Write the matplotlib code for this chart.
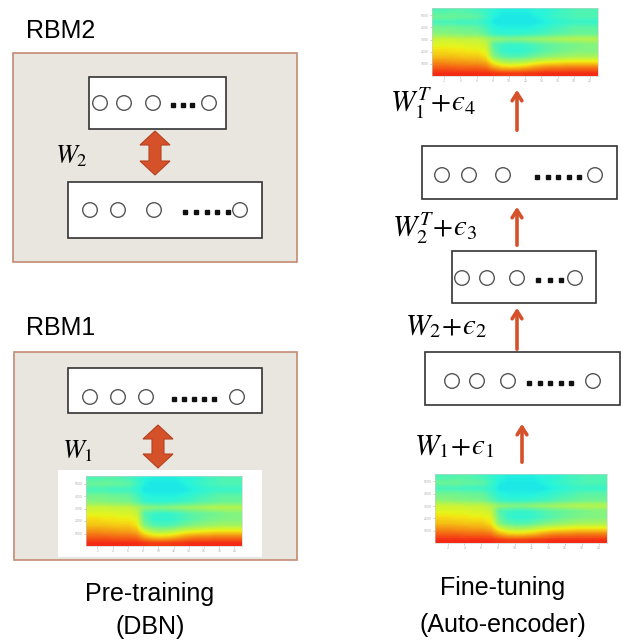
import numpy as np
import matplotlib
matplotlib.use("Agg")
import matplotlib.pyplot as plt
import matplotlib.patches as mpatches
from matplotlib.colors import ListedColormap

W, H = 621, 642

# spectrogram intensities (x100, jet scale), rows top (high freq) -> bottom
SPEC = np.array([
    [43, 43, 44, 44, 43, 42, 40, 38, 37, 37, 37, 37, 38, 38, 39, 41, 42, 43, 43, 43],
    [47, 47, 47, 46, 46, 45, 41, 37, 36, 36, 36, 36, 37, 38, 40, 41, 42, 43, 43, 43],
    [42, 42, 42, 41, 41, 41, 39, 36, 36, 36, 36, 36, 36, 37, 38, 39, 40, 40, 40, 40],
    [48, 48, 48, 47, 47, 46, 42, 38, 37, 37, 37, 37, 38, 39, 41, 42, 44, 45, 45, 45],
    [51, 51, 50, 50, 49, 49, 45, 40, 39, 39, 39, 40, 41, 42, 44, 45, 46, 47, 47, 47],
    [60, 60, 60, 59, 59, 59, 56, 52, 51, 50, 51, 52, 53, 54, 55, 56, 57, 57, 57, 57],
    [63, 63, 63, 63, 62, 62, 60, 44, 41, 40, 40, 41, 43, 45, 46, 47, 48, 49, 50, 50],
    [67, 67, 66, 66, 65, 65, 63, 46, 40, 39, 39, 40, 42, 44, 46, 48, 49, 50, 50, 50],
    [70, 70, 70, 69, 69, 69, 66, 50, 45, 43, 43, 45, 48, 50, 52, 53, 54, 55, 55, 55],
    [76, 76, 75, 75, 74, 74, 72, 62, 57, 55, 56, 58, 61, 63, 64, 65, 66, 66, 66, 66],
    [82, 82, 82, 81, 81, 81, 80, 74, 70, 69, 70, 72, 75, 77, 78, 78, 79, 79, 79, 79],
    [88, 88, 88, 88, 88, 88, 88, 87, 86, 86, 86, 87, 87, 88, 88, 88, 88, 88, 88, 88],
]) / 100.0
SPEC_XTICKS = [2, 4, 6, 8, 10, 12, 14, 16, 18, 20]
SPEC_YTICKS = [1000, 2000, 3000, 4000, 5000]

RED = "#d5512a"
RED_DARK = "#b5411f"
PANEL_FACE = "#e9e5df"
PANEL_EDGE = "#c48a74"

# slightly washed-out jet, like the scanned figure
_jet = plt.get_cmap("jet")(np.linspace(0, 1, 256))
_jet[:, :3] = _jet[:, :3] * 0.88 + 0.08
SOFT_JET = ListedColormap(_jet)

plt.rcParams["mathtext.fontset"] = "stix"

fig = plt.figure(figsize=(W / 100, H / 100), dpi=100)
ax = fig.add_axes([0, 0, 1, 1])
ax.set_xlim(0, W)
ax.set_ylim(H, 0)
ax.axis("off")


def spectrogram(x0, y0, x1, y1):
    sub = fig.add_axes([x0 / W, 1 - y1 / H, (x1 - x0) / W, (y1 - y0) / H])
    sub.imshow(SPEC, cmap=SOFT_JET, vmin=0, vmax=1, aspect="auto",
               interpolation="bilinear", extent=(0.5, 21, 0, 5600))
    sub.set_xticks(SPEC_XTICKS)
    sub.set_yticks(SPEC_YTICKS)
    sub.tick_params(length=1.5, width=0.4, labelsize=2.2, pad=1,
                    colors="#aaaaaa")
    for s in sub.spines.values():
        s.set_linewidth(0.4)
        s.set_edgecolor("#cccccc")


def layer(x0, y0, x1, y1, circles, dots, cy, ndots):
    ax.add_patch(mpatches.Rectangle((x0, y0), x1 - x0, y1 - y0, fc="white",
                                    ec="#333333", lw=1.2, zorder=2))
    for cx in circles:
        ax.add_patch(mpatches.Circle((cx, cy), 7.3, fc="white", ec="#555555",
                                     lw=1.0, zorder=3))
    ax.plot(np.linspace(dots[0], dots[1], ndots), [cy + 1.5] * ndots,
            ls="none", marker="s", ms=2.2, color="#111111", zorder=3)


def double_arrow(cx, ytop, ybot, head_w=30, head_l=14, shaft_w=12):
    hw, sw = head_w / 2, shaft_w / 2
    pts = [(cx, ytop), (cx + hw, ytop + head_l), (cx + sw, ytop + head_l),
           (cx + sw, ybot - head_l), (cx + hw, ybot - head_l), (cx, ybot),
           (cx - hw, ybot - head_l), (cx - sw, ybot - head_l),
           (cx - sw, ytop + head_l), (cx - hw, ytop + head_l)]
    ax.add_patch(mpatches.Polygon(pts, closed=True, fc=RED, ec=RED_DARK,
                                  lw=0.8, zorder=3))


def up_arrow(x, ybot, ytop):
    ax.annotate("", xy=(x, ytop), xytext=(x, ybot),
                arrowprops=dict(arrowstyle="->,head_length=0.55,head_width=0.35",
                                lw=2.6, color=RED))


sans = "Liberation Sans"

# ---- left: pre-training ----
ax.text(26, 31, "RBM2", fontsize=18, family=sans, va="center", ha="left")
ax.add_patch(mpatches.Rectangle((13, 53), 284, 209, fc=PANEL_FACE,
                                ec=PANEL_EDGE, lw=1.2, zorder=1))
layer(89, 77, 226, 129, [100, 124, 153, 209], (173, 192), 103, 3)
double_arrow(155, 131, 175)
ax.text(55, 156, r"$W_2$", fontsize=19, va="center", ha="left")
layer(68, 182, 262, 238, [90, 118, 154, 240], (185, 228), 210, 5)

ax.text(26, 328, "RBM1", fontsize=18, family=sans, va="center", ha="left")
ax.add_patch(mpatches.Rectangle((14, 352), 283, 208, fc=PANEL_FACE,
                                ec=PANEL_EDGE, lw=1.2, zorder=1))
layer(68, 368, 262, 413, [90, 118, 146, 237], (174, 214), 397, 5)
double_arrow(158, 425, 468)
ax.text(62, 451, r"$W_1$", fontsize=19, va="center", ha="left")
ax.add_patch(mpatches.Rectangle((58, 470), 204, 87, fc="white", ec="none",
                                zorder=2))
spectrogram(86, 476, 242, 546)

ax.text(150, 594, "Pre-training", fontsize=18, family=sans, ha="center",
        va="center")
ax.text(150, 627, "(DBN)", fontsize=18, family=sans, ha="center", va="center")

# ---- right: fine-tuning ----
spectrogram(432, 8, 598, 76)
up_arrow(517, 133, 87)
ax.text(390, 103, "$W_1^T\\!+\\!\u03f5_4$", fontsize=21, va="center",
        ha="left")
layer(422, 146, 617, 199, [442, 469, 503, 595], (537, 579), 175, 5)
up_arrow(517, 248, 204)
ax.text(392, 228, "$W_2^T\\!+\\!\u03f5_3$", fontsize=21, va="center",
        ha="left")
layer(452, 251, 596, 303, [462, 487, 517, 575], (538, 561), 278, 3)
up_arrow(517, 352, 305)
ax.text(405, 326, "$W_2\\!+\\!\u03f5_2$", fontsize=21, va="center",
        ha="left")
layer(425, 352, 620, 405, [452, 477, 508, 593], (529, 571), 381, 5)
up_arrow(522, 465, 421)
ax.text(414, 446, "$W_1\\!+\\!\u03f5_1$", fontsize=21, va="center",
        ha="left")
spectrogram(435, 474, 607, 543)

ax.text(503, 588, "Fine-tuning", fontsize=18, family=sans, ha="center",
        va="center")
ax.text(503, 625, "(Auto-encoder)", fontsize=18, family=sans, ha="center",
        va="center")

fig.savefig("out.png", dpi=100)
